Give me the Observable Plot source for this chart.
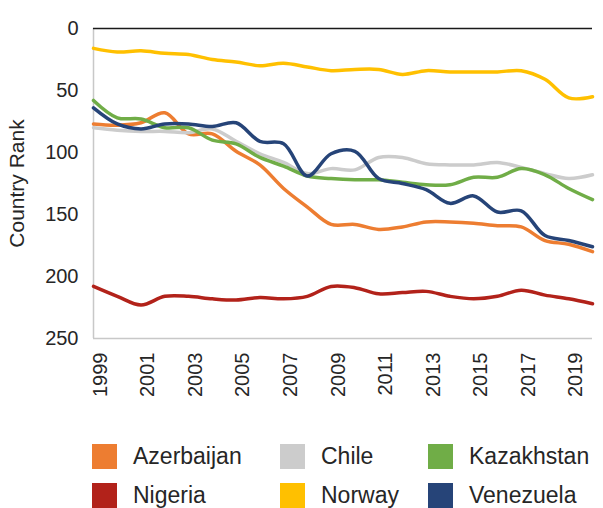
<!DOCTYPE html>
<html><head><meta charset="utf-8">
<script src="https://cdn.jsdelivr.net/npm/d3@7"></script>
<script src="https://cdn.jsdelivr.net/npm/@observablehq/plot@0.6"></script>
<style>
body{margin:0;background:#fff;font-family:"Liberation Sans",Arial,sans-serif;}
#chart{width:603px;}
.legend{display:grid;grid-template-columns:188px 148px 160px;row-gap:14px;padding:24px 0 0 92px;}
.item{display:flex;align-items:center;height:25px;font-size:23px;color:#262626;white-space:nowrap;}
.sw{width:25px;height:25px;margin-right:16px;flex:none;}
</style></head><body><div id="chart"></div><div class="legend" id="legend"></div>
<script>
const years = [1999,2000,2001,2002,2003,2004,2005,2006,2007,2008,2009,2010,2011,2012,2013,2014,2015,2016,2017,2018,2019,2020];
const countries = ["Azerbaijan","Chile","Kazakhstan","Nigeria","Norway","Venezuela"];
const colors = ["#ED7D31","#CCCCCC","#70AD47","#B2221A","#FFC000","#264478"];
const azerbaijan = [77,78,76,68,85,85,99,110,129,144,158,158,162,160,156,156,157,159,160,171,174,180];
const chile      = [80,82,83,83,84,81,91,101,108,117,113,114,104,104,109,110,110,108,112,117,121,118];
const kazakhstan = [58,72,73,80,80,90,93,104,111,119,121,122,122,124,126,126,120,120,113,118,129,138];
const nigeria    = [208,216,223,216,216,218,219,217,218,216,208,209,214,213,212,216,218,216,211,215,218,222];
const norway     = [16,19,18,20,21,25,27,30,28,31,34,33,33,37,34,35,35,35,34,41,56,55];
const venezuela  = [64,77,81,77,77,79,76,91,93,119,101,99,121,125,130,141,135,148,147,167,171,176];
const yTicks = [0,50,100,150,200,250];
const xTicks = [1999,2001,2003,2005,2007,2009,2011,2013,2015,2017,2019];

const series = [azerbaijan, chile, kazakhstan, nigeria, norway, venezuela];
const data = countries.flatMap((c, i) => years.map((y, j) => ({country: c, year: y, rank: series[i][j]})));

const chart = Plot.plot({
  width: 603,
  height: 420,
  marginLeft: 93,
  marginRight: 11,
  marginTop: 28,
  marginBottom: 82,
  style: {fontFamily: '"Liberation Sans", Arial, sans-serif', fontSize: "20px", color: "#262626", background: "#fff"},
  x: {domain: [1999, 2020]},
  y: {domain: [0, 250], reverse: true},
  color: {domain: countries, range: colors},
  marks: [
    Plot.ruleY([250], {stroke: "#C8C8C8", strokeWidth: 1.5}),
    Plot.ruleX([1999], {stroke: "#C8C8C8", strokeWidth: 1.5}),
    Plot.ruleY([0], {stroke: "#1a1a1a", strokeWidth: 1.5}),
    Plot.line(data, {x: "year", y: "rank", z: "country", stroke: "country", strokeWidth: 3.5, curve: "catmull-rom"}),
    Plot.axisY({ticks: yTicks, tickSize: 0, tickPadding: 15, fontSize: 20, label: "Country Rank", labelAnchor: "center", labelOffset: 84, labelArrow: "none"}),
    Plot.axisX({ticks: xTicks, tickFormat: "d", tickSize: 0, tickPadding: 14, tickRotate: -90, fontSize: 20, dx: 7, label: null})
  ]
});
d3.select(chart).selectAll("text")
  .filter(function() { return this.textContent === "Country Rank"; })
  .style("font-size", "21px");
document.getElementById("chart").appendChild(chart);

const legend = document.getElementById("legend");
countries.forEach((c, i) => {
  const item = document.createElement("div");
  item.className = "item";
  const sw = document.createElement("span");
  sw.className = "sw";
  sw.style.background = colors[i];
  item.appendChild(sw);
  item.appendChild(document.createTextNode(c));
  legend.appendChild(item);
});
</script>
</body></html>
